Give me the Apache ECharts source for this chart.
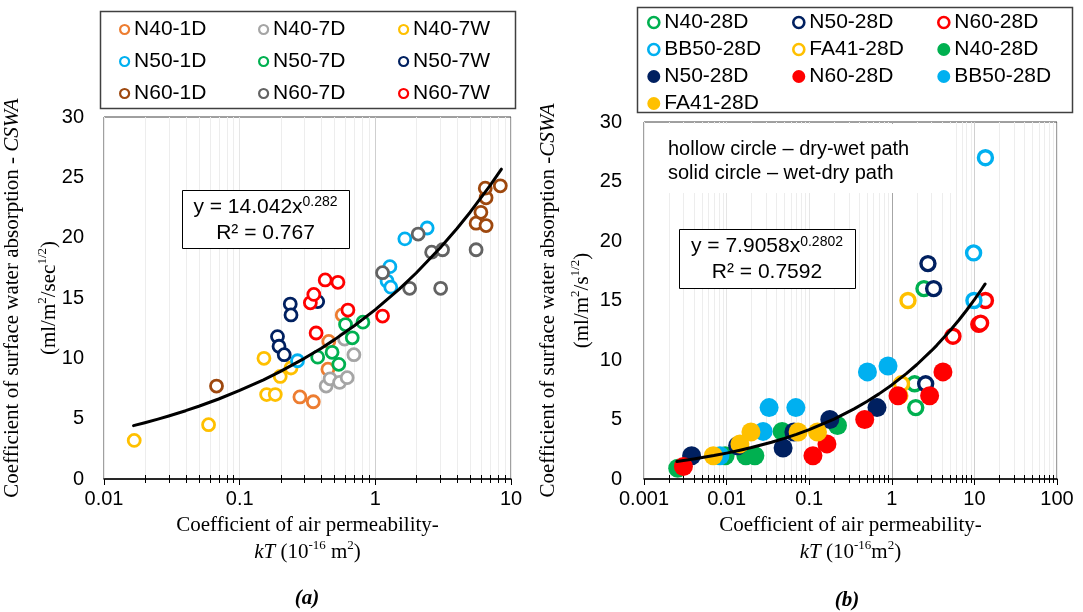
<!DOCTYPE html>
<html><head><meta charset="utf-8">
<script src="https://cdn.jsdelivr.net/npm/echarts@6/dist/echarts.min.js"></script>
<style>html,body{margin:0;padding:0;background:#fff}#c{width:1083px;height:612px}</style>
</head><body><div id="c"></div>
<script>
// ---------- Panel (a) data : [kT, CSWA] ----------
const a_N40_1D = [[0.278,6.8],[0.349,6.4],[0.447,9.1],[0.454,11.4],[0.57,13.6]];
const a_N40_7D = [[0.434,7.7],[0.464,8.3],[0.545,8.0],[0.62,8.4],[0.593,11.6],[0.695,10.3]];
const a_N40_7W = [[0.0167,3.2],[0.059,4.5],[0.151,10.0],[0.158,7.0],[0.183,7.0],[0.199,8.5],[0.239,9.2]];
const a_N50_1D = [[0.267,9.8],[1.22,16.4],[1.30,15.9],[1.28,17.6],[1.65,19.9],[2.41,20.8]];
const a_N50_7D = [[0.376,10.1],[0.48,10.5],[0.538,9.5],[0.603,12.8],[0.676,11.7],[0.81,13.0]];
const a_N50_7W = [[0.19,11.8],[0.195,11.0],[0.213,10.3],[0.236,14.5],[0.239,13.6],[0.376,14.7]];
const a_N60_1D = [[0.0675,7.7],[5.53,21.2],[6.0,22.1],[6.55,21.0],[6.55,23.3],[6.46,24.1],[8.34,24.3]];
const a_N60_7D = [[1.13,17.1],[1.79,15.8],[2.07,20.3],[2.6,18.8],[3.13,19.0],[3.03,15.8],[5.53,19.0]];
const a_N60_7W = [[0.332,14.6],[0.352,15.3],[0.366,12.1],[0.427,16.5],[0.53,16.3],[0.628,14.0],[1.13,13.5]];
// power trend read along the fitted curve y = 14.042x^0.282
const a_trend = [[0.0165,4.42],[0.02,4.66],[0.025,4.96],[0.03,5.22],[0.04,5.66],[0.05,6.03],[0.07,6.63],[0.1,7.34],[0.15,8.22],[0.2,8.92],[0.3,10.0],[0.4,10.84],[0.5,11.55],[0.7,12.70],[1,14.04],[1.5,15.74],[2,17.07],[3,19.14],[4,20.76],[5,22.11],[7,24.31],[8.5,25.68]];

// ---------- Panel (b) data ----------
const b_N40_h  = [[1.89,8.0],[1.95,6.0],[2.45,16.0]];
const b_N50_h  = [[2.57,8.0],[2.74,18.1],[3.21,16.0]];
const b_N60_h  = [[5.5,12.0],[11.3,13.0],[11.9,13.1],[13.6,15.0]];
const b_BB50_h = [[9.78,19.0],[9.87,15.0],[13.6,27.0]];
const b_FA41_h = [[1.25,7.0],[1.31,8.0],[1.57,15.0]];
const b_N40_f  = [[0.00256,0.9],[0.0096,1.95],[0.0171,1.95],[0.022,1.95],[0.047,4.0],[0.22,4.5]];
const b_N50_f  = [[0.00377,1.95],[0.0136,2.8],[0.0483,2.6],[0.0652,3.95],[0.1775,5.0],[0.662,6.0]];
const b_N60_f  = [[0.003,1.05],[0.111,1.95],[0.164,2.95],[0.47,5.0],[1.19,7.0],[2.87,7.0],[4.16,9.0]];
const b_BB50_f = [[0.0083,1.95],[0.0277,4.0],[0.0327,6.0],[0.0689,6.0],[0.507,9.0],[0.9,9.5]];
const b_FA41_f = [[0.0069,1.95],[0.0145,2.95],[0.0197,3.95],[0.0734,3.95],[0.126,3.95]];
// power trend read along y = 7.9058x^0.2802
const b_trend = [[0.0025,1.475],[0.003,1.553],[0.004,1.683],[0.007,1.969],[0.01,2.176],[0.015,2.437],[0.02,2.642],[0.035,3.091],[0.05,3.416],[0.07,3.753],[0.1,4.147],[0.2,5.036],[0.35,5.891],[0.5,6.51],[0.7,7.154],[1,7.906],[1.5,8.857],[2,9.60],[3,10.76],[3.5,11.23],[5,12.41],[6.5,13.36],[8,14.16],[10,15.07],[12,15.86],[13.5,16.39]];

// ---------- ticks ----------
const xTicksA = [0.01, 0.1, 1, 10];
const xLabelsA = ['0.01', '0.1', '1', '10'];
const xTicksB = [0.001, 0.01, 0.1, 1, 10, 100];
const xLabelsB = ['0.001', '0.01', '0.1', '1', '10', '100'];
const yTicks = [0, 5, 10, 15, 20, 25, 30];
const decadesA = [0.01, 0.1, 1];
const decadesB = [0.001, 0.01, 0.1, 1, 10];
const minorMult = [2, 3, 4, 5, 6, 7, 8, 9];

const SANS = 'Liberation Sans, Arial, sans-serif';
const SERIF = 'Liberation Serif, Times New Roman, serif';

function minorVals(decs) {
  const out = [];
  decs.forEach(d => minorMult.forEach(m => out.push([+(d * m).toPrecision(6), 0])));
  return out;
}
function lab(ticks, labels) {
  return v => {
    let best = 0;
    ticks.forEach((t, i) => { if (Math.abs(Math.log10(t) - Math.log10(v)) < Math.abs(Math.log10(ticks[best]) - Math.log10(v))) best = i; });
    return labels[best];
  };
}
function minorRender(params, api) {
  const x = api.value(0);
  const b = api.coord([x, 0]);
  const t = api.coord([x, 30]);
  const px = Math.round(b[0]) + 0.5;
  return {type: 'group', children: [
    {type: 'line', shape: {x1: px, y1: t[1], x2: px, y2: b[1]}, style: {stroke: '#ededed', lineWidth: 1}},
    {type: 'line', shape: {x1: px, y1: b[1] - 4, x2: px, y2: b[1] + 4}, style: {stroke: '#000', lineWidth: 1}}
  ]};
}

const C = {
  orange: '#ED7D31', lgray: '#A5A5A5', yellow: '#FFC000', lblue: '#00B0F0',
  green: '#00B050', navy: '#002060', brown: '#9E480E', dgray: '#636363', red: '#FF0000'
};

const seriesA = [
  ['N40-1D', C.orange, a_N40_1D], ['N40-7D', C.lgray, a_N40_7D], ['N40-7W', C.yellow, a_N40_7W],
  ['N50-1D', C.lblue, a_N50_1D], ['N50-7D', C.green, a_N50_7D], ['N50-7W', C.navy, a_N50_7W],
  ['N60-1D', C.brown, a_N60_1D], ['N60-7D', C.dgray, a_N60_7D], ['N60-7W', C.red, a_N60_7W]
];
const seriesBh = [
  ['N40-28D|h', C.green, b_N40_h], ['N50-28D|h', C.navy, b_N50_h], ['N60-28D|h', C.red, b_N60_h],
  ['BB50-28D|h', C.lblue, b_BB50_h], ['FA41-28D|h', C.yellow, b_FA41_h]
];
const seriesBf = [
  ['N40-28D|f', C.green, b_N40_f], ['N50-28D|f', C.navy, b_N50_f], ['N60-28D|f', C.red, b_N60_f],
  ['BB50-28D|f', C.lblue, b_BB50_f], ['FA41-28D|f', C.yellow, b_FA41_f]
];
const colorOf = {};
seriesA.concat(seriesBh, seriesBf).forEach(s => colorOf[s[0]] = s[1]);

const series = [];
series.push({type: 'custom', xAxisIndex: 0, yAxisIndex: 0, data: minorVals(decadesA), renderItem: minorRender, encode: {x: 0, y: 1}, silent: true, z: 1, clip: false});
series.push({type: 'custom', xAxisIndex: 1, yAxisIndex: 1, data: minorVals(decadesB), renderItem: minorRender, encode: {x: 0, y: 1}, silent: true, z: 1, clip: false});
seriesA.forEach(s => series.push({
  name: s[0], type: 'scatter', xAxisIndex: 0, yAxisIndex: 0, data: s[2], symbol: 'circle', symbolSize: 12,
  itemStyle: {color: '#fff', borderColor: s[1], borderWidth: 2.8, opacity: 1}, z: 3, silent: true
}));
seriesBh.forEach(s => series.push({
  name: s[0], type: 'scatter', xAxisIndex: 1, yAxisIndex: 1, data: s[2], symbol: 'circle', symbolSize: 14,
  itemStyle: {color: '#fff', borderColor: s[1], borderWidth: 3.4, opacity: 1}, z: 3, silent: true
}));
seriesBf.forEach(s => series.push({
  name: s[0], type: 'scatter', xAxisIndex: 1, yAxisIndex: 1, data: s[2], symbol: 'circle', symbolSize: 19,
  itemStyle: {color: s[1], opacity: 1}, z: 3, silent: true
}));
series.push({type: 'line', xAxisIndex: 0, yAxisIndex: 0, data: a_trend, symbol: 'none', smooth: false, lineStyle: {color: '#000', width: 3, join: 'round', cap: 'round'}, z: 5, silent: true});
series.push({type: 'line', xAxisIndex: 1, yAxisIndex: 1, data: b_trend, symbol: 'none', smooth: false, lineStyle: {color: '#000', width: 3, join: 'round', cap: 'round'}, z: 5, silent: true});

function legendItem(name, hollow, bw) {
  const c = colorOf[name];
  return {name, itemStyle: hollow ? {color: '#fff', borderColor: c, borderWidth: bw} : {color: c, borderColor: c, borderWidth: 2}};
}
function legendCol(left, top, gap, iw, names, hollowFn, bw) {
  return {
    left, top, orient: 'vertical', itemGap: gap, itemWidth: iw, itemHeight: iw, icon: 'circle',
    selectedMode: false, padding: 0,
    data: names.map(n => legendItem(n, hollowFn(n), bw)),
    formatter: n => n.split('|')[0],
    textStyle: {fontSize: 21, fontFamily: SANS, color: '#000', lineHeight: 20}
  };
}
const allHollow = () => true;
const isHollow = n => n.endsWith('|h');

function nameStyle(lh) {
  const p = Math.round((lh - 27) / 2);
  return {
    fontFamily: SERIF, fontSize: 21, color: '#000', lineHeight: lh,
    rich: {
      i: {fontStyle: 'italic', fontFamily: SERIF, fontSize: 21, color: '#000', lineHeight: lh},
      sup: {fontFamily: SERIF, fontSize: 13, color: '#000', verticalAlign: 'top', lineHeight: 13, padding: [p, 0, 0, 0]}
    }
  };
}

function xAxisCfg(idx, min, max, ticks, labels, splitColors, name) {
  return {
    type: 'log', logBase: 10, gridIndex: idx, min, max,
    axisLine: {show: true, lineStyle: {color: '#000', width: 1.5}},
    axisTick: {show: true, length: 6, lineStyle: {color: '#000', width: 1}},
    axisLabel: {fontSize: 20, fontFamily: SANS, color: '#000', margin: 10, formatter: lab(ticks, labels)},
    splitLine: {show: true, lineStyle: {color: splitColors, width: 1}},
    name, nameLocation: 'middle', nameGap: 33, nameMoveOverlap: false, nameTextStyle: nameStyle(27)
  };
}
function yAxisCfg(idx, name, gap, margin, lh) {
  return {
    type: 'value', gridIndex: idx, min: yTicks[0], max: yTicks[yTicks.length - 1], interval: 5,
    axisLine: {show: false}, axisTick: {show: false}, splitLine: {show: false},
    axisLabel: {fontSize: 20, fontFamily: SANS, color: '#000', margin},
    name, nameLocation: 'middle', nameRotate: 90, nameGap: gap, nameMoveOverlap: false, nameTextStyle: nameStyle(lh)
  };
}

const supStyle = {fontFamily: SANS, fontSize: 14, fill: '#000', verticalAlign: 'top', lineHeight: 14};
function eqBox(x, y, w, h, l1, l2) {
  return {type: 'group', z: 50, children: [
    {type: 'rect', z: 50, shape: {x: x + 0.5, y: y + 0.5, width: w, height: h}, style: {fill: '#fff', stroke: '#000', lineWidth: 1}},
    {type: 'text', z: 51, style: {x: x + w / 2, y: y + h * 0.3, text: l1, align: 'center', verticalAlign: 'middle', textAlign: 'center', textVerticalAlign: 'middle', fontSize: 21, fontFamily: SANS, fill: '#000', lineHeight: 24, rich: {sup: supStyle}}},
    {type: 'text', z: 51, style: {x: x + w / 2, y: y + h * 0.74, text: l2, align: 'center', verticalAlign: 'middle', textAlign: 'center', textVerticalAlign: 'middle', fontSize: 21, fontFamily: SANS, fill: '#000'}}
  ]};
}

const option = {
  animation: false,
  backgroundColor: '#fff',
  grid: [
    {left: 104, top: 117, width: 407, height: 362, show: true, borderColor: '#404040', borderWidth: 1, backgroundColor: 'transparent', containLabel: false, outerBoundsMode: 'none'},
    {left: 644, top: 122, width: 413, height: 357, show: true, borderColor: '#404040', borderWidth: 1, backgroundColor: 'transparent', containLabel: false, outerBoundsMode: 'none'}
  ],
  xAxis: [
    xAxisCfg(0, 0.01, 10, xTicksA, xLabelsA, ['#ebebeb', '#e6e6e6', '#cfcfcf', '#ebebeb'],
      'Coefficient of air permeability-\n{i|kT} (10{sup|-16} m{sup|2})'),
    xAxisCfg(1, 0.001, 100, xTicksB, xLabelsB, ['#ebebeb', '#e6e6e6', '#e6e6e6', '#a6a6a6', '#d0d0d0', '#ebebeb'],
      'Coefficient of air permeability-\n{i|kT} (10{sup|-16}m{sup|2})')
  ],
  yAxis: [
    yAxisCfg(0, 'Coefficient of surface water absorption - {i|CSWA}\n(ml/m{sup|2}/sec{sup|1/2})', 36, 20, 37),
    yAxisCfg(1, 'Coefficient of surface water absorption -{i|CSWA}\n(ml/m{sup|2}/s{sup|1/2})', 45, 22, 34)
  ],
  legend: [
    legendCol(119, 19, 11, 9, ['N40-1D', 'N50-1D', 'N60-1D'], allHollow, 2.2),
    legendCol(258, 19, 11, 9, ['N40-7D', 'N50-7D', 'N60-7D'], allHollow, 2.2),
    legendCol(398, 19, 11, 9, ['N40-7W', 'N50-7W', 'N60-7W'], allHollow, 2.2),
    legendCol(647, 12, 6, 11, ['N40-28D|h', 'BB50-28D|h', 'N50-28D|f', 'FA41-28D|f'], isHollow, 2.6),
    legendCol(792, 12, 6, 11, ['N50-28D|h', 'FA41-28D|h', 'N60-28D|f'], isHollow, 2.6),
    legendCol(937, 12, 6, 11, ['N60-28D|h', 'N40-28D|f', 'BB50-28D|f'], isHollow, 2.6)
  ],
  graphic: [
    {type: 'rect', z: 0, shape: {x: 100.5, y: 11.5, width: 415, height: 97}, style: {fill: 'none', stroke: '#404040', lineWidth: 1.5}, silent: true},
    {type: 'rect', z: 0, shape: {x: 637.5, y: 7.5, width: 435, height: 105}, style: {fill: 'none', stroke: '#404040', lineWidth: 1.5}, silent: true},
    eqBox(182, 190, 167, 58, 'y = 14.042x{sup|0.282}', 'R² = 0.767'),
    eqBox(679, 229, 176, 59, 'y = 7.9058x{sup|0.2802}', 'R² = 0.7592'),
    {type: 'rect', z: 40, shape: {x: 646, y: 124, width: 310, height: 69}, style: {fill: '#fff'}, silent: true},
    {type: 'text', z: 41, style: {x: 668, y: 149, text: 'hollow circle – dry-wet path', align: 'left', verticalAlign: 'middle', textAlign: 'left', textVerticalAlign: 'middle', fontSize: 20, fontFamily: SANS, fill: '#000'}},
    {type: 'text', z: 41, style: {x: 668, y: 173, text: 'solid circle – wet-dry path', align: 'left', verticalAlign: 'middle', textAlign: 'left', textVerticalAlign: 'middle', fontSize: 20, fontFamily: SANS, fill: '#000'}},
    {type: 'text', z: 41, style: {x: 307, y: 599, text: '(a)', align: 'center', verticalAlign: 'middle', textAlign: 'center', textVerticalAlign: 'middle', fontSize: 21, fontFamily: SERIF, fontStyle: 'italic', fontWeight: 'bold', fill: '#000'}},
    {type: 'text', z: 41, style: {x: 847, y: 601, text: '(b)', align: 'center', verticalAlign: 'middle', textAlign: 'center', textVerticalAlign: 'middle', fontSize: 21, fontFamily: SERIF, fontStyle: 'italic', fontWeight: 'bold', fill: '#000'}}
  ],
  series
};

const chart = echarts.init(document.getElementById('c'), null, {renderer: 'canvas'});
chart.setOption(option);
</script></body></html>
